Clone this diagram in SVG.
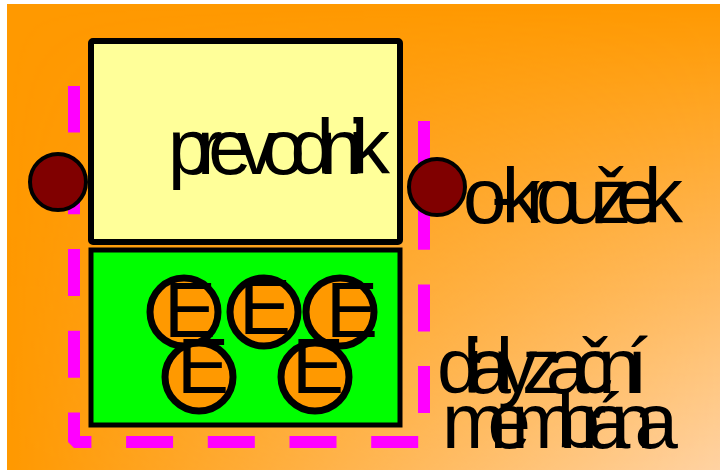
<svg xmlns="http://www.w3.org/2000/svg" width="720" height="470" viewBox="0 0 720 470">
  <defs>
    <linearGradient id="fadeX" x1="0" y1="0" x2="1" y2="0">
      <stop offset="0" stop-color="#000"/>
      <stop offset="1" stop-color="#fff"/>
    </linearGradient>
    <linearGradient id="fadeY" x1="0" y1="0" x2="0" y2="1">
      <stop offset="0" stop-color="#000"/>
      <stop offset="1" stop-color="#fff"/>
    </linearGradient>
    <mask id="maskX" maskUnits="userSpaceOnUse" x="0" y="0" width="720" height="470">
      <rect x="7" y="4" width="713" height="466" fill="url(#fadeX)"/>
    </mask>
    <mask id="maskY" maskUnits="userSpaceOnUse" x="0" y="0" width="720" height="470">
      <rect x="7" y="4" width="713" height="466" fill="url(#fadeY)"/>
    </mask>
    <style>
      .label { font-family: "Liberation Sans", Arial, sans-serif; font-size: 78px; fill: #000; }
      .ring { fill: #800000; stroke: #000; stroke-width: 4; }
      .ion { fill: #FF9900; stroke: #000; stroke-width: 7; }
      .ionText { font-family: "Liberation Sans", Arial, sans-serif; font-size: 78px; fill: #000; }
    </style>
  </defs>

  <!-- background: orange fading to peach toward the lower right corner -->
  <g id="background">
    <rect x="7" y="4" width="713" height="466" fill="#FF9900"/>
    <g mask="url(#maskX)">
      <rect x="7" y="4" width="713" height="466" fill="#FFD2A2" mask="url(#maskY)"/>
    </g>
  </g>

  <!-- dashed membrane outline -->
  <g id="connectors">
    <path d="M424,121 V442 H74 V86" fill="none" stroke="#FF00FF" stroke-width="12" stroke-dasharray="47 34.7" stroke-linejoin="bevel"/>
  </g>

  <!-- transducer -->
  <g id="transducer">
    <rect x="91" y="41" width="309" height="201" rx="2" fill="#FFFF99" stroke="#000" stroke-width="6"/>
    <text class="label" x="168" y="174" textLength="222" lengthAdjust="spacing">prevodnik</text>
  </g>

  <!-- enzyme layer -->
  <g id="enzyme-layer">
    <rect x="91" y="250" width="309" height="175" fill="#00FF00" stroke="#000" stroke-width="5"/>
  </g>
  <g id="enzyme-1">
    <circle class="ion" cx="184" cy="312" r="34"/>
    <text class="ionText" x="164" y="337">E</text>
  </g>
  <g id="enzyme-2">
    <circle class="ion" cx="264" cy="312" r="34"/>
    <text class="ionText" x="239" y="334">E</text>
  </g>
  <g id="enzyme-3">
    <circle class="ion" cx="340" cy="312" r="34"/>
    <text class="ionText" x="326" y="337">E</text>
  </g>
  <g id="enzyme-4">
    <circle class="ion" cx="199" cy="377" r="34"/>
    <text class="ionText" x="177" y="393">E</text>
  </g>
  <g id="enzyme-5">
    <circle class="ion" cx="315" cy="377" r="34"/>
    <text class="ionText" x="292" y="393">E</text>
  </g>

  <!-- sealing rings -->
  <g id="ring-left">
    <circle class="ring" cx="58" cy="182" r="28"/>
  </g>
  <g id="ring-right">
    <circle class="ring" cx="437" cy="187" r="28"/>
    <text class="label" x="463" y="223" textLength="220" lengthAdjust="spacing">o-kroužek</text>
  </g>

  <!-- membrane label -->
  <g id="membrane-label">
    <text class="label" x="437" y="393" textLength="211" lengthAdjust="spacing">dialyzační</text>
    <text class="label" x="442" y="448" textLength="236" lengthAdjust="spacing">membrána</text>
  </g>
</svg>
